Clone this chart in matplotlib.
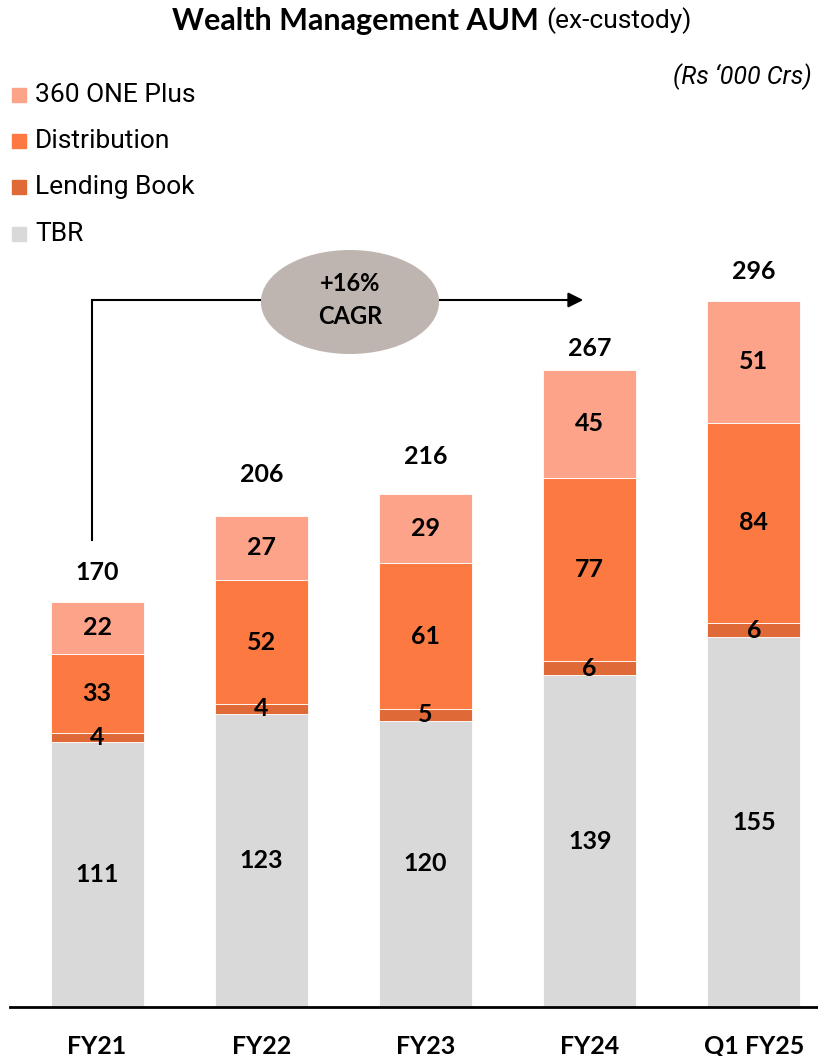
import matplotlib
matplotlib.use("Agg")
import matplotlib.pyplot as plt
from matplotlib.patches import Ellipse
import numpy as np

# AUM by year, Rs '000 Crs
periods = ["FY21", "FY22", "FY23", "FY24", "Q1 FY25"]
tbr = [111, 123, 120, 139, 155]
lending_book = [4, 4, 5, 6, 6]
distribution = [33, 52, 61, 77, 84]
one_plus = [22, 27, 29, 45, 51]
totals = [170, 206, 216, 267, 296]

series = [
    ("TBR", tbr, "#D9D9D9"),
    ("Lending Book", lending_book, "#E06A37"),
    ("Distribution", distribution, "#FC7A41"),
    ("360 ONE Plus", one_plus, "#FCA38A"),
]

W, H = 818, 1056
fig = plt.figure(figsize=(W / 100, H / 100), dpi=100)
base_px = 1007
ax = fig.add_axes([10 / W, (H - base_px) / H, 808 / W, base_px / H])
px_per_unit = 2.385
ax.set_ylim(0, base_px / px_per_unit)
step = 164
ax.set_xlim(-(97 - 10) / step, 4 + (818 - 754) / step)

num_font = "Lato"
x = np.arange(len(periods))
bottom = np.zeros(len(periods))
for name, vals, col in series:
    vals = np.array(vals, dtype=float)
    ax.bar(x, vals, width=0.567, bottom=bottom, color=col,
           edgecolor="white", linewidth=0.6, zorder=2)
    for xi, b, v in zip(x, bottom, vals):
        ax.text(xi, b + v / 2, f"{int(v)}", ha="center", va="center",
                fontsize=18, fontweight="bold", family=num_font,
                color="black", zorder=4)
    bottom += vals

# totals above each stack (gap in pixels above the bar top)
label_gap_px = [29, 41, 38, 22, 30]
for xi, top, t, gap in zip(x, bottom, totals, label_gap_px):
    ax.text(xi, top + gap / px_per_unit, f"{t}", ha="center", va="center",
            fontsize=18, fontweight="bold", family=num_font, color="black")

for s in ["top", "right", "left"]:
    ax.spines[s].set_visible(False)
ax.spines["bottom"].set_linewidth(2)
ax.spines["bottom"].set_color("black")
ax.set_yticks([])
ax.set_xticks(x)
ax.set_xticklabels(periods, fontsize=18, fontweight="bold", family=num_font)
ax.tick_params(axis="x", length=0, pad=20)

# CAGR connector arrow
def px2data(px, py):
    return ax.transData.inverted().transform(
        fig.transFigure.transform((px / W, 1 - py / H)))

p0 = px2data(92, 540)
p1 = px2data(92, 300)
p2 = px2data(586, 300)
ax.plot([p0[0], p1[0], p2[0] - 0.08], [p0[1], p1[1], p2[1]], color="black",
        lw=1.5, zorder=3, solid_joinstyle="miter")
ax.annotate("", xy=p2, xytext=(p2[0] - 0.1, p2[1]),
            arrowprops=dict(arrowstyle="-|>,head_length=0.9,head_width=0.45",
                            color="black", lw=1.5), zorder=3)
c = px2data(350, 302)
e = Ellipse(c, width=178 / step, height=104 / px_per_unit, facecolor="#BFB5B0",
            edgecolor="none", zorder=5)
ax.add_patch(e)
ax.text(c[0], c[1] + 2 / px_per_unit, "+16%\nCAGR", ha="center", va="center",
        fontsize=17, fontweight="bold", family=num_font, color="black",
        zorder=6, linespacing=1.55)

# title: bold main part followed by regular suffix
t1 = fig.text(0.5, 1 - 21 / H, "Wealth Management AUM ", ha="left", va="center",
              fontsize=22, fontweight="bold", family="Lato")
t2 = fig.text(0.5, 1 - 21 / H, "(ex-custody)", ha="left", va="center",
              fontsize=19, family="Roboto")
fig.canvas.draw()
r = fig.canvas.get_renderer()
w1 = t1.get_window_extent(r).width
w2 = t2.get_window_extent(r).width
start = 432 - (w1 + w2) / 2
t1.set_x(start / W)
t2.set_x((start + w1) / W)

fig.text(812 / W, 1 - 77 / H, "(Rs \u2018000 Crs)", ha="right", va="center",
         fontsize=18, style="italic", family="Roboto")

# legend
legend_items = [("360 ONE Plus", "#FCA38A", 95), ("Distribution", "#FC7A41", 141),
                ("Lending Book", "#E06A37", 187), ("TBR", "#D9D9D9", 234)]
for lab, col, yy in legend_items:
    fig.patches.append(plt.Rectangle((12 / W, 1 - (yy + 7) / H), 14 / W, 14 / H,
                                     transform=fig.transFigure, color=col))
    fig.text(35 / W, 1 - yy / H, lab, ha="left", va="center", fontsize=19,
             family="Roboto", color="black")

fig.savefig("out.png", dpi=100)
